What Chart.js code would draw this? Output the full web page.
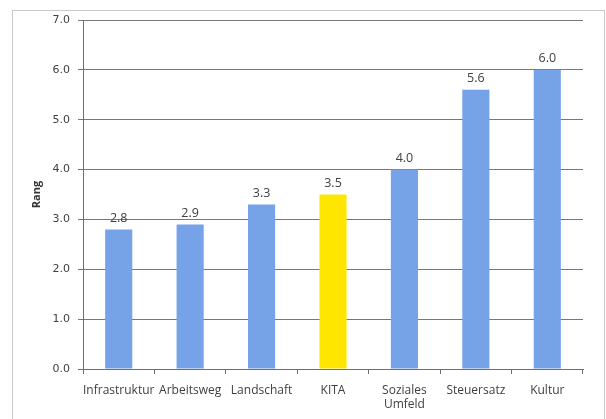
<!DOCTYPE html>
<html>
<head>
<meta charset="utf-8">
<script src="https://cdn.jsdelivr.net/npm/chart.js@4"></script>
<style>
  html, body { margin: 0; padding: 0; background: #fff; }
  #wrap { position: relative; width: 606px; height: 419px; overflow: hidden; }
  #frame { position: absolute; left: 12px; top: 10px; width: 591px; height: 420px; border: 1px solid #c9c9c9; }
  #box { position: absolute; left: 0; top: 0; width: 606px; height: 419px; }
</style>
</head>
<body>
<div id="wrap">
  <div id="frame"></div>
  <div id="box"><canvas id="rangChart"></canvas></div>
</div>
<script>
// Rang je Kriterium (Mittelwerte)
const categories = ["Infrastruktur", "Arbeitsweg", "Landschaft", "KITA", ["Soziales", "Umfeld"], "Steuersatz", "Kultur"];
const rankValues = [2.8, 2.9, 3.3, 3.5, 4.0, 5.6, 6.0];
const highlightIndex = 3; // KITA in gelb

const blue = "#76a3e8";
const yellow = "#ffe600";
const barColors = rankValues.map((v, i) => i === highlightIndex ? yellow : blue);

// value labels over the bars
const valueLabels = {
    id: "valueLabels",
    afterDatasetsDraw(chart) {
        const ctx = chart.ctx;
        const meta = chart.getDatasetMeta(0);
        ctx.save();
        ctx.font = "12.5px 'Open Sans'";
        ctx.fillStyle = "#404040";
        ctx.textAlign = "center";
        ctx.textBaseline = "bottom";
        meta.data.forEach((bar, i) => {
            ctx.fillText(rankValues[i].toFixed(1), bar.x, bar.y - 5);
        });
        ctx.restore();
    }
};

new Chart(document.getElementById("rangChart"), {
    type: "bar",
    data: {
        labels: categories,
        datasets: [{
            data: rankValues,
            backgroundColor: barColors,
            borderWidth: 0,
            categoryPercentage: 1,
            barPercentage: 0.38
        }]
    },
    options: {
        responsive: true,
        maintainAspectRatio: false,
        animation: false,
        layout: { padding: { left: 0, top: 20, right: 23, bottom: 0 } },
        plugins: {
            legend: { display: false },
            tooltip: { enabled: false }
        },
        scales: {
            x: {
                afterFit: s => { s.height = 50; },
                grid: {
                    offset: true,
                    drawOnChartArea: false,
                    drawTicks: true,
                    tickLength: 5,
                    color: "#6f6f6f"
                },
                border: { color: "#6f6f6f" },
                ticks: {
                    padding: 9,
                    maxRotation: 0,
                    autoSkip: false,
                    color: "#404040",
                    font: { family: "'Open Sans'", size: 12 }
                }
            },
            y: {
                min: 0,
                max: 7,
                afterFit: s => { s.width = 83; },
                grid: {
                    color: "#777",
                    tickLength: 5
                },
                border: { color: "#6f6f6f" },
                ticks: {
                    stepSize: 1,
                    padding: 8,
                    color: "#404040",
                    font: { family: "'DejaVu Sans'", size: 11 },
                    callback: v => v.toFixed(1)
                },
                title: {
                    display: true,
                    text: "Rang",
                    color: "#333",
                    padding: { top: 30, bottom: 0 },
                    font: { family: "'Open Sans'", size: 11, weight: "bold" }
                }
            }
        }
    },
    plugins: [valueLabels]
});
</script>
</body>
</html>
